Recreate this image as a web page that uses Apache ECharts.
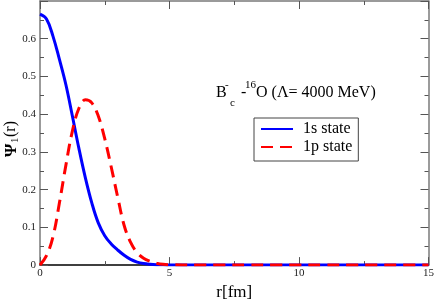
<!DOCTYPE html>
<html><head><meta charset="utf-8">
<script src="https://cdn.jsdelivr.net/npm/echarts@6/dist/echarts.min.js"></script>
<style>html,body{margin:0;padding:0;background:#fff}#c{width:437px;height:306px}</style>
</head><body><div id="c"></div>
<script>
const rValues = [0,0.25,0.5,0.75,1.0,1.25,1.5,1.75,2.0,2.25,2.5,2.75,3.0,3.25,3.5,3.75,4.0,4.25,4.5,4.75,5,6,7,8,9,10,11,12,13,14,15];
const state1s = [0.665,0.652,0.607,0.545,0.478,0.395,0.310,0.232,0.165,0.112,0.078,0.056,0.040,0.026,0.015,0.008,0.004,0.002,0.001,0.0007,0.0005,0,0,0,0,0,0,0,0,0,0];
const state1p = [0.0,0.025,0.075,0.165,0.265,0.355,0.415,0.438,0.430,0.395,0.335,0.260,0.180,0.105,0.060,0.033,0.018,0.010,0.005,0.002,0.001,0,0,0,0,0,0,0,0,0,0];
const seriesNames = ['1s state','1p state'];
const xTicks = [0,5,10,15];
const yTicks = [0,0.1,0.2,0.3,0.4,0.5,0.6];

const F = 'Liberation Serif';
const chart = echarts.init(document.getElementById('c'));
const pairs = a => rValues.map((r,i)=>[r,a[i]]);
const gray = '#7a7a7a';
const tickCommon = {inside:true, length:8, lineStyle:{color:'#555', width:1}};
const minorCommon = {show:true, splitNumber:2, length:4, lineStyle:{color:'#555', width:1}};
chart.setOption({
  animation:false,
  backgroundColor:'#fff',
  grid:{left:40, right:7, top:1, bottom:31, containLabel:false},
  xAxis:[{
    type:'value', min:0, max:15, interval:5, position:'bottom',
    name:'r[fm]', nameLocation:'middle', nameGap:17,
    nameTextStyle:{fontFamily:F, fontSize:17, color:'#000'},
    axisLine:{onZero:false, lineStyle:{color:'#000', width:1.5}},
    axisTick:tickCommon, minorTick:minorCommon,
    axisLabel:{fontFamily:F, fontSize:11, color:'#222', margin:3,
      formatter:v=>xTicks.includes(v)?String(v):''},
    splitLine:{show:false}
  },{
    type:'value', min:0, max:15, interval:5, position:'top',
    axisLine:{onZero:false, lineStyle:{color:gray, width:1.5}},
    axisTick:tickCommon, minorTick:minorCommon,
    axisLabel:{show:false}, splitLine:{show:false}
  }],
  yAxis:[{
    type:'value', min:0, max:0.7, interval:0.1, position:'left',
    axisLine:{show:true, onZero:false, lineStyle:{color:gray, width:1.5}},
    axisTick:tickCommon, minorTick:minorCommon,
    axisLabel:{fontFamily:F, fontSize:11, color:'#222', margin:4,
      formatter:v=>{const k=yTicks.find(t=>Math.abs(t-v)<1e-9); return k===undefined?'':(k===0?'0':k.toFixed(1));}},
    splitLine:{show:false}
  },{
    type:'value', min:0, max:0.7, interval:0.1, position:'right',
    axisLine:{show:true, onZero:false, lineStyle:{color:gray, width:1.5}},
    axisTick:tickCommon, minorTick:minorCommon,
    axisLabel:{show:false}, splitLine:{show:false}
  }],
  legend:{
    orient:'vertical', left:254, top:118,
    data:seriesNames,
    itemWidth:32, itemHeight:14, itemGap:2,
    padding:[3,6,6,6],
    borderColor:'#444', borderWidth:1, backgroundColor:'#fff',
    itemStyle:{color:'transparent', borderWidth:0, opacity:0},
    textStyle:{fontFamily:F, fontSize:16, color:'#000', padding:[0,0,0,5]}
  },
  series:[{
    name:seriesNames[0], type:'line', data:pairs(state1s), symbol:'none', smooth:0.4,
    lineStyle:{color:'#0000ff', width:3}, itemStyle:{color:'#0000ff'}, z:2
  },{
    name:seriesNames[1], type:'line', data:pairs(state1p), symbol:'none', smooth:0.4,
    lineStyle:{color:'#ff0000', width:3, type:[12,7]}, itemStyle:{color:'#ff0000'}, z:3
  }],
  graphic:[
    {type:'text', left:216, top:85, style:{text:'B', font:'16px '+F, fill:'#000'}},
    {type:'text', left:225, top:80, style:{text:'-', font:'11px '+F, fill:'#000'}},
    {type:'text', left:230, top:98, style:{text:'c', font:'11px '+F, fill:'#000'}},
    {type:'text', left:237, top:85, style:{text:' -', font:'16px '+F, fill:'#000'}},
    {type:'text', left:245, top:80, style:{text:'16', font:'11px '+F, fill:'#000'}},
    {type:'text', left:256, top:85, style:{text:'O (Λ= 4000 MeV)', font:'16px '+F, fill:'#000'}},
    {type:'group', x:3, y:157, rotation:Math.PI/2, children:[
      {type:'text', x:0, y:0, style:{text:'Ψ', font:'bold 17px '+F, fill:'#000'}},
      {type:'text', x:14, y:7, style:{text:'1', font:'11px '+F, fill:'#000'}},
      {type:'text', x:20, y:0, style:{text:'(r)', font:'16px '+F, fill:'#000'}}
    ]}
  ]
});
</script></body></html>
